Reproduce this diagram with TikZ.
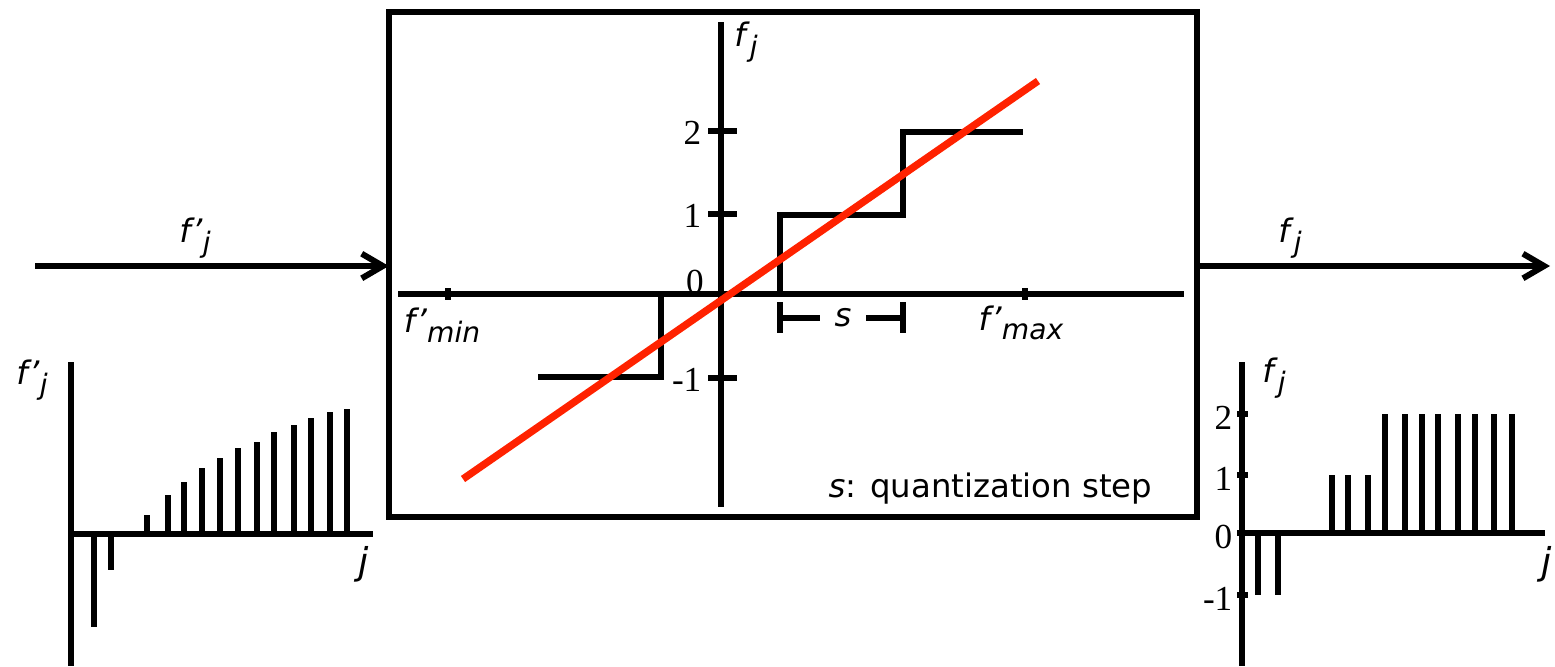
\documentclass[tikz,border=0pt]{standalone}
\usepackage{fontspec}
\setmainfont{DejaVu Sans}
\newfontfamily\numfont{Liberation Serif}
\usetikzlibrary{arrows.meta, positioning}
\definecolor{fitred}{HTML}{FF2200}
\newcommand{\subfont}{\fontsize{8}{9}\selectfont}
\newcommand{\fsub}[1]{\textit{f}\raisebox{-0.55ex}{\subfont\textit{#1}}}
\newcommand{\fpsub}[1]{\textit{f’}\raisebox{-0.55ex}{\subfont\textit{#1}}}
\tikzset{
  axisline/.style={line width=1.6pt},
  stem/.style={line width=1.8pt},
  quantline/.style={line width=1.6pt, line join=miter},
  fitline/.style={line width=2.1pt, draw=fitred},
  flow/.style={line width=1.7pt, -{Straight Barb[length=6pt,width=7pt]}},
  lbl/.style={font=\fontsize{9.2}{11}\selectfont, inner sep=0pt},
  numlbl/.style={font=\numfont\fontsize{10}{12}\selectfont, inner sep=0pt},
}

\begin{document}
\begin{tikzpicture}[x=0.01cm, y=-0.01cm]
    \useasboundingbox (0,0) rectangle (1555,666);

    % quantizer box with input and output
    \node[draw, line width=1.6pt, minimum width=8.08cm, minimum height=5.05cm,
          inner sep=0pt, outer sep=0pt] (box) at (793,264.5) {};
    \coordinate (in) at (35,266);
    \coordinate (out) at (1550,266);
    \draw[flow] (in) -- (in -| box.west);
    \draw[flow] (out -| box.east) -- (out);
    \node[lbl] (inlbl) at (195,238) {\fpsub{j}};
    \node[lbl] (outlbl) at (1290,238) {\fsub{j}};

    % quantizer characteristic
    \draw[axisline] (398,294) -- (1184,294);
    \draw[axisline] (721,22) -- (721,507);
    \node[lbl] (faxis) at (746,42) {\fsub{j}};
    \foreach \v/\y in {2/131, 1/214, -1/378} {
      \draw[axisline] (708,\y) -- (737,\y);
      \node[numlbl, anchor=east] at (702,\y+2) {\v};
    }
    \node[numlbl] (zero) at (695,282) {0};
    \draw[axisline] (448,288) -- (448,300);
    \draw[axisline] (1025,288) -- (1025,300);
    \node[lbl] (fmin) at (442,325) {\fpsub{min}};
    \node[lbl] (fmax) at (1021,323) {\fpsub{max}};

    \draw[quantline] (538,377) -- (661,377) -- (661,294);
    \draw[quantline] (780,294) -- (780,215) -- (903,215) -- (903,132) -- (1023,132);
    \draw[fitline] (463,479) -- (1038,81);

    % step width
    \draw[axisline] (780,302) -- (780,333);
    \draw[axisline] (903,302) -- (903,333);
    \node[lbl, inner sep=4pt] (slbl) at (843,318) {\textit{s}};
    \draw[axisline] (780,318) -- (slbl.west);
    \draw[axisline] (slbl.east) -- (903,318);
    \node[lbl, anchor=base east] (note) at (1153,497) {\textit{s}: quantization step};

    % input samples
    \draw[axisline] (71,362) -- (71,666);
    \draw[axisline] (71,534) -- (373,534);
    \foreach \x/\y in {94/627, 111/570, 147/515, 168/495, 184/482, 202/468, 220/458,
                       238/448, 257/442, 274/432, 294/425, 311/418, 330/412, 347/409}
      \draw[stem] (\x,534) -- (\x,\y);
    \node[lbl] (inaxis) at (32,380) {\fpsub{j}};
    \node[lbl, font=\fontsize{10.5}{12}\selectfont] (injay) at (364,564) {\textit{j}};

    % quantized samples
    \draw[axisline] (1242,362) -- (1242,666);
    \draw[axisline] (1242,533) -- (1545,533);
    \foreach \v/\y in {2/414, 1/475, 0/533, -1/595} {
      \draw[axisline] (1237,\y) -- (1248,\y);
      \node[numlbl, anchor=east] at (1233,\y+4) {\v};
    }
    \foreach \x/\y in {1258/595, 1278/595, 1332/475, 1348/475, 1368/475,
                       1385/414, 1405/414, 1422/414, 1438/414, 1458/414, 1475/414, 1494/414, 1512/414}
      \draw[stem] (\x,533) -- (\x,\y);
    \node[lbl] (outaxis) at (1274,378) {\fsub{j}};
    \node[lbl, font=\fontsize{10.5}{12}\selectfont] (outjay) at (1547,564) {\textit{j}};
\end{tikzpicture}
\end{document}
